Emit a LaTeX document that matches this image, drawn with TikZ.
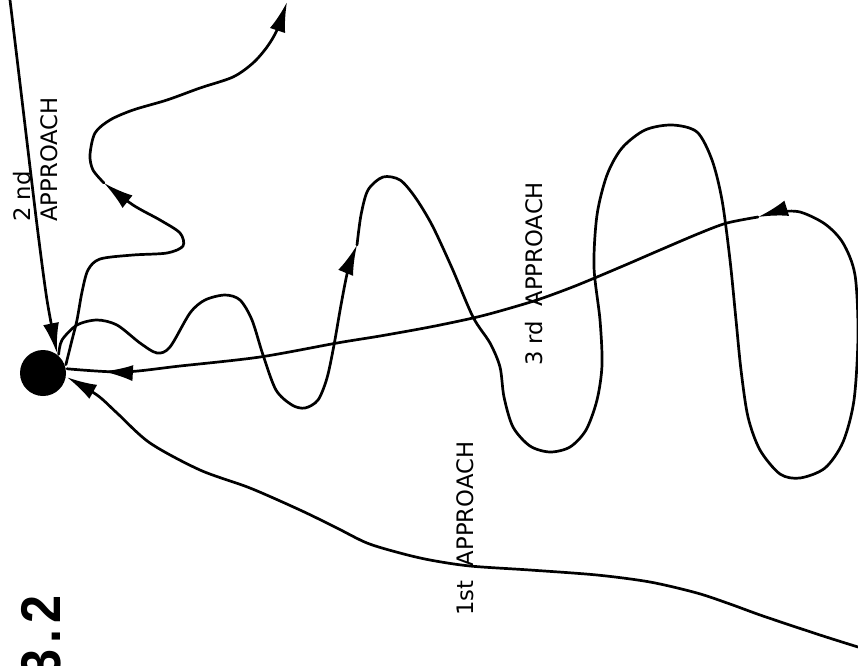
\documentclass[tikz,border=0pt]{standalone}
\usepackage{fontspec}
\setmainfont{DejaVu Sans}
\newfontfamily\figfont{Liberation Sans}
\usetikzlibrary{arrows.meta,decorations.markings}
\tikzstyle{every node}=[font=\fontsize{22.7}{27}\selectfont]
\tikzstyle{every path}=[line width=2.7pt,line cap=round,line join=round]
\tikzstyle{headed}=[-{Latex[length=30pt,width=16pt]}]
\tikzstyle{markhead}=[postaction={decorate},decoration={markings,mark=at position #1 with {\arrow{Latex[length=30pt,width=16pt]}}}]

\begin{document}
\begin{tikzpicture}[x=1pt,y=-1pt]
% Approaches to the target
	\useasboundingbox (0,0) rectangle (858,665);
	\node[circle,fill,minimum size=46pt,inner sep=0pt] (dot) at (43,373) {}; %% dot is the target
	\coordinate (S1) at (858,647); %% S1 is the start of the 1st approach
	\coordinate (S2) at (10,0); %% S2 is the start of the 2nd approach
	\coordinate (E4) at (287,2); %% E4 is where the last path leaves the picture
	\coordinate (A1) at (357,245); %% A1 is the tip of the upward arrow
	\coordinate (A2) at (758,217); %% A2 is the tip of the arrow on the outer loop
	\coordinate (A3) at (104,183); %% A3 is the tip of the arrow on the upper loop
	\draw[headed] plot[smooth] coordinates {(S2) (22,100) (30,167) (38,233) (47,300) (dot.55)};
	\draw[headed] plot[smooth] coordinates {(S1) (820,635) (763,616) (730,604) (697,593) (650,582) (597,575) (530,570) (470,566) (430,560) (400,553) (367,543) (335,527) (300,510) (250,488) (200,470) (150,443) (117,413) (97,395) (dot.-10)};
	\draw[headed] plot[smooth] coordinates {(dot.50) (62,340) (77,325) (97,320) (117,325) (140,343) (157,353) (170,347) (190,313) (205,300) (225,295) (240,300) (252,320) (263,355) (276,390) (292,405) (305,408) (318,400) (327,378) (334,345) (341,305) (348,270) (A1)};
	\draw[headed] plot[smooth] coordinates {(A1) (361,215) (368,190) (383,177) (400,180) (415,197) (432,225) (452,268) (473,317) (490,343) (500,367) (504,397) (513,427) (530,446) (550,452) (570,447) (586,430) (597,400) (602,365) (600,320) (594,267) (597,215) (607,175) (622,148) (645,130) (672,125) (697,132) (712,160) (722,200) (730,260) (736,320) (741,370) (748,417) (760,450) (780,474) (800,478) (825,468) (843,442) (854,400) (858,335) (855,275) (843,243) (825,224) (800,212) (778,212) (A2)};
	\draw[markhead=-36pt] plot[smooth] coordinates {(A2) (727,223) (700,233) (660,250) (630,263) (597,277) (570,288) (537,300) (500,311) (473,318) (430,327) (380,336) (337,343) (260,357) (180,366) (123,372) (dot.10)};
	\draw[headed] plot[smooth] coordinates {(dot.20) (72,340) (77,320) (82,292) (88,270) (100,259) (133,255) (167,253) (183,246) (180,233) (160,220) (133,205) (A3)};
	\draw[headed] plot[smooth] coordinates {(A3) (93,170) (90,155) (95,133) (110,120) (133,110) (167,100) (200,88) (233,77) (253,63) (267,47) (277,30) (E4)};
	\node[rotate=90,anchor=south west,inner sep=0pt,align=left] (L2) at (59,223) {2 nd\\APPROACH};
	\node[rotate=90,anchor=base west,inner sep=0pt] (L1) at (473,617) {1st~~APPROACH};
	\node[rotate=90,anchor=base west,inner sep=0pt] (L3) at (542,367) {3 rd~~APPROACH};
	\node[rotate=90,xscale=0.9,anchor=base west,inner sep=0pt,font=\figfont\bfseries\fontsize{56}{60}\selectfont] (fig) at (60,679) {3\kern7pt.\kern7pt2};
  \end{tikzpicture}
\end{document}
